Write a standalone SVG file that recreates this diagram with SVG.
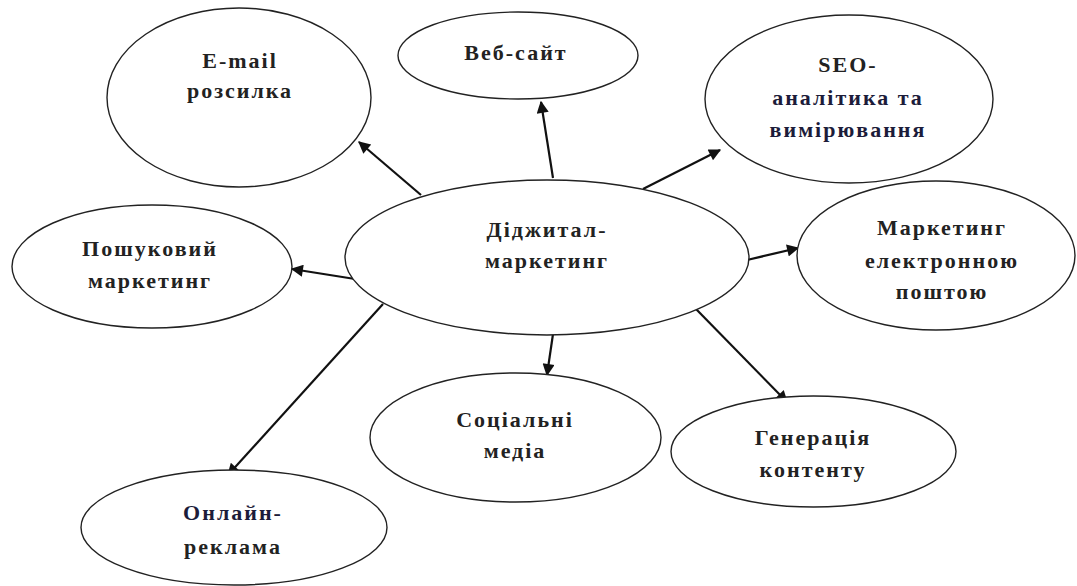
<svg xmlns="http://www.w3.org/2000/svg" width="1077" height="586" viewBox="0 0 1077 586">
<style>
.n ellipse{fill:#fff;stroke:#222;stroke-width:1.4}
.n text{font-family:"Liberation Serif","Times New Roman",serif;font-weight:bold;font-size:22px;fill:#222;text-anchor:middle;letter-spacing:2px}
.n text.b{fill:#1c1c3a}
.c line{stroke:#111;stroke-width:2.2;marker-end:url(#ah)}
</style>
<defs>
<marker id="ah" viewBox="0 0 10 10" refX="9" refY="5" markerWidth="6.5" markerHeight="5.5" markerUnits="strokeWidth" orient="auto">
<path d="M0,0 L10,5 L0,10 z" fill="#111"/>
</marker>
</defs>
<rect width="1077" height="586" fill="#fff"/>
<g class="c">
<line x1="421" y1="195" x2="359" y2="142"/>
<line x1="553" y1="178" x2="541" y2="102"/>
<line x1="643" y1="189" x2="720" y2="150"/>
<line x1="355" y1="279" x2="292" y2="269"/>
<line x1="747" y1="260" x2="798" y2="248"/>
<line x1="383" y1="304" x2="228" y2="475"/>
<line x1="553" y1="334" x2="547" y2="375"/>
<line x1="696" y1="309" x2="787" y2="402"/>
</g>
<g class="n" id="email">
<ellipse cx="239" cy="97.5" rx="132" ry="89.5"/>
<text x="240" y="68">E-mail</text>
<text x="240" y="98">розсилка</text>
</g>
<g class="n" id="website">
<ellipse cx="518" cy="55.5" rx="120" ry="43.5"/>
<text x="516" y="60">Веб-сайт</text>
</g>
<g class="n" id="seo">
<ellipse cx="849" cy="99" rx="144" ry="84"/>
<text x="848" y="72">SEO-</text>
<text class="b" x="848" y="105">аналітика та</text>
<text class="b" x="848" y="137">вимірювання</text>
</g>
<g class="n" id="search">
<ellipse cx="152" cy="266.5" rx="140" ry="61.5"/>
<text x="150" y="256">Пошуковий</text>
<text x="150" y="288">маркетинг</text>
</g>
<g class="n" id="center">
<ellipse cx="547" cy="257.5" rx="202" ry="77.5"/>
<text x="547" y="237">Діджитал-</text>
<text x="547" y="268">маркетинг</text>
</g>
<g class="n" id="emailmkt">
<ellipse cx="936" cy="255.5" rx="139" ry="74.5"/>
<text x="942" y="235">Маркетинг</text>
<text x="942" y="268">електронною</text>
<text x="942" y="299">поштою</text>
</g>
<g class="n" id="social">
<ellipse cx="515.5" cy="437.5" rx="145.5" ry="64.5"/>
<text x="515" y="427">Соціальні</text>
<text x="515" y="458">медіа</text>
</g>
<g class="n" id="content">
<ellipse cx="813.5" cy="451.5" rx="142.5" ry="55.5"/>
<text x="813" y="445">Генерація</text>
<text x="813" y="477">контенту</text>
</g>
<g class="n" id="ads">
<ellipse cx="234" cy="527.5" rx="153" ry="57.5"/>
<text class="b" x="233" y="520">Онлайн-</text>
<text x="233" y="554">реклама</text>
</g>
</svg>
